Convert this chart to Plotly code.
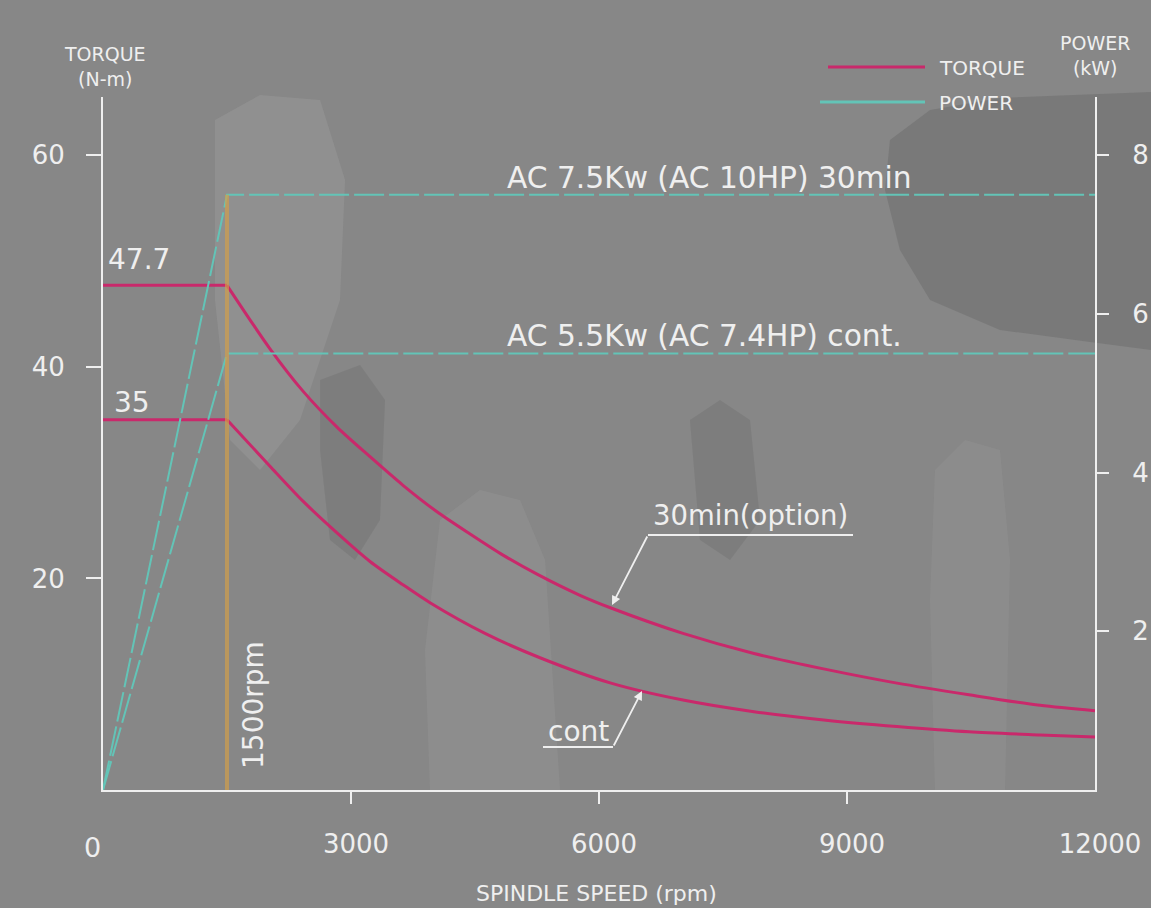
import plotly.graph_objects as go

# ---------------- data ----------------
rpm_30min = [0, 1500, 2020, 2419, 2831, 3230, 3629, 4040, 4440, 4839, 5250, 5770, 6145,
             7016, 7875, 8746, 9605, 10476, 11335, 12000]
torque_30min = [47.7, 47.7, 41.7, 37.7, 34.3, 31.5, 28.8, 26.3, 24.2, 22.2, 20.4, 18.4, 17.2,
                14.8, 12.9, 11.4, 10.1, 9.0, 8.0, 7.5]

rpm_cont = [0, 1500, 2020, 2419, 2831, 3230, 3629, 3956, 4621, 5286, 6145, 7016, 7875, 8746,
            9605, 10476, 11335, 12000]
torque_cont = [35.0, 35.0, 30.6, 27.3, 24.3, 21.6, 19.4, 17.7, 14.8, 12.5, 10.1, 8.5, 7.4, 6.6,
               6.0, 5.5, 5.2, 5.0]

rpm_power = [0, 1500, 12000]
power_30min = [0, 7.5, 7.5]
power_cont = [0, 5.5, 5.5]

base_speed = 1500
x_ticks = [0, 3000, 6000, 9000, 12000]
x_ticktext = ["", "3000", "6000", "9000", "12000"]
x_minor = [3000, 6000, 9000]
y_ticks = [20, 40, 60]
y2_ticks = [2, 4, 6, 8]

# ---------------- style ----------------
BG = "#878787"
WHITE = "#efefef"
TORQUE_C = "#c9296b"
POWER_C = "#63c4b7"
FONT = "DejaVu Sans"

L, R, T, B = 103, 56, 97, 118
W, H = 1151, 908
PW, PH = W - L - R, H - T - B
Y_TOP = 65.5
Y2_TOP = Y_TOP * 8 / 60


def px(x):
    return (x - L) / PW


def py(y):
    return (H - B - y) / PH


def path(points):
    return "M " + " L ".join(f"{px(a):.4f},{py(b):.4f}" for a, b in points) + " Z"


fig = go.Figure()

# power lines (right axis)
for pw in (power_30min, power_cont):
    fig.add_trace(go.Scatter(x=rpm_power, y=pw, mode="lines", yaxis="y2",
                             line=dict(color=POWER_C, width=2, dash="30px,5px"),
                             hoverinfo="skip", showlegend=False))

# base speed marker line
fig.add_trace(go.Scatter(x=[base_speed, base_speed], y=[0, power_30min[1]], mode="lines",
                         yaxis="y2", line=dict(color="rgba(214,160,70,0.65)", width=4),
                         hoverinfo="skip", showlegend=False))

# torque curves: flat part + smooth curve
for rx, ty in ((rpm_30min, torque_30min), (rpm_cont, torque_cont)):
    fig.add_trace(go.Scatter(x=rx[:2], y=ty[:2], mode="lines",
                             line=dict(color=TORQUE_C, width=3),
                             hoverinfo="skip", showlegend=False))
    fig.add_trace(go.Scatter(x=rx[1:], y=ty[1:], mode="lines",
                             line=dict(color=TORQUE_C, width=3, shape="spline", smoothing=0.8),
                             hoverinfo="skip", showlegend=False))


def note(text, x, y, size, xanchor="center", **kw):
    d = dict(text=text, x=px(x), y=py(y), xref="paper", yref="paper", xanchor=xanchor,
             yanchor="middle", showarrow=False, font=dict(size=size, color=WHITE, family=FONT))
    d.update(kw)
    return d


annotations = [
    note("TORQUE<br>(N-m)", 105, 67, 19, align="center"),
    note("POWER<br>(kW)", 1095, 56, 19, align="center"),
    note("SPINDLE SPEED (rpm)", 596, 893, 22),
    note("TORQUE", 937, 68, 20, xanchor="left"),
    note("POWER", 937, 103, 20, xanchor="left"),
    note("47.7", 139, 259, 28),
    note("35", 132, 402, 28),
    note("AC 7.5Kw (AC 10HP) 30min", 505, 177, 29.7, xanchor="left"),
    note("AC 5.5Kw (AC 7.4HP) cont.", 505, 335, 29.7, xanchor="left"),
    note("1500rpm", 253, 705, 28, textangle=-90),
    note("30min(option)", 750, 515, 27.5),
    note("cont", 578, 731, 28),
    note("0", 92, 847, 27),
    # leader arrows (offsets in pixels from tip to tail)
    dict(x=px(612), y=py(605), ax=36, ay=-70, xref="paper", yref="paper",
         axref="pixel", ayref="pixel", text="", showarrow=True, arrowhead=2, arrowsize=1,
         arrowwidth=1.8, arrowcolor=WHITE),
    dict(x=px(642), y=py(691), ax=-29, ay=56, xref="paper", yref="paper",
         axref="pixel", ayref="pixel", text="", showarrow=True, arrowhead=2, arrowsize=1,
         arrowwidth=1.8, arrowcolor=WHITE),
]

DARK = "#686868"
LIGHT = "#a6a6a6"
shapes = [
    # subtle background texture (gear silhouettes)
    dict(type="path", xref="paper", yref="paper", layer="below", line=dict(width=0),
         fillcolor=DARK, opacity=0.45,
         path=path([(890, 140), (930, 110), (1000, 98), (1151, 92), (1151, 350), (1090, 342),
                    (1000, 330), (930, 300), (900, 250), (885, 190)])),
    dict(type="path", xref="paper", yref="paper", layer="below", line=dict(width=0),
         fillcolor=LIGHT, opacity=0.3,
         path=path([(215, 120), (260, 95), (320, 100), (345, 180), (340, 300), (300, 420),
                    (260, 470), (230, 440), (215, 300)])),
    dict(type="path", xref="paper", yref="paper", layer="below", line=dict(width=0),
         fillcolor=DARK, opacity=0.3,
         path=path([(320, 380), (360, 365), (385, 400), (380, 520), (355, 560), (330, 540),
                    (320, 450)])),
    dict(type="path", xref="paper", yref="paper", layer="below", line=dict(width=0),
         fillcolor=LIGHT, opacity=0.22,
         path=path([(440, 520), (480, 490), (520, 500), (545, 560), (560, 790), (430, 790),
                    (425, 650)])),
    dict(type="path", xref="paper", yref="paper", layer="below", line=dict(width=0),
         fillcolor=DARK, opacity=0.3,
         path=path([(690, 420), (720, 400), (750, 420), (760, 520), (730, 560), (700, 540)])),
    dict(type="path", xref="paper", yref="paper", layer="below", line=dict(width=0),
         fillcolor=LIGHT, opacity=0.18,
         path=path([(935, 470), (965, 440), (1000, 450), (1010, 560), (1005, 790), (935, 790),
                    (930, 600)])),
    # legend lines
    dict(type="line", xref="paper", yref="paper", x0=px(828), x1=px(925), y0=py(67), y1=py(67),
         line=dict(color=TORQUE_C, width=3)),
    dict(type="line", xref="paper", yref="paper", x0=px(820), x1=px(925), y0=py(102), y1=py(102),
         line=dict(color=POWER_C, width=3)),
    # underline for leader labels
    dict(type="line", xref="paper", yref="paper", x0=px(648), x1=px(853), y0=py(535), y1=py(535),
         line=dict(color=WHITE, width=1.8)),
    dict(type="line", xref="paper", yref="paper", x0=px(543), x1=px(613), y0=py(747), y1=py(747),
         line=dict(color=WHITE, width=1.8)),
]

axis_common = dict(showgrid=False, zeroline=False, showline=True, linecolor=WHITE, linewidth=2,
                   tickcolor=WHITE, tickwidth=2, automargin=False,
                   tickfont=dict(size=26, color=WHITE, family=FONT))

fig.update_layout(
    width=W, height=H,
    margin=dict(l=L, r=R, t=T, b=B, autoexpand=False),
    paper_bgcolor=BG, plot_bgcolor=BG,
    showlegend=False,
    xaxis=dict(range=[0, 12000], tickvals=x_ticks, ticktext=x_ticktext,
               ticks="", ticklabelstandoff=30, ticklabelshift=5,
               minor=dict(tickvals=x_minor, ticks="outside", ticklen=12, tickcolor=WHITE, tickwidth=2),
               **axis_common),
    yaxis=dict(range=[0, Y_TOP], tickvals=y_ticks, ticks="outside", ticklen=15,
               ticklabelstandoff=16, **axis_common),
    yaxis2=dict(range=[0, Y2_TOP], tickvals=y2_ticks, ticks="outside", ticklen=12,
                overlaying="y", side="right", ticklabelstandoff=18, **axis_common),
    annotations=annotations,
    shapes=shapes,
)

fig.write_html(
    "out.html",
    config={"displayModeBar": False},
    post_script="document.body.style.margin='0';document.body.style.overflow='hidden';"
                "document.body.style.background='" + BG + "';",
)
